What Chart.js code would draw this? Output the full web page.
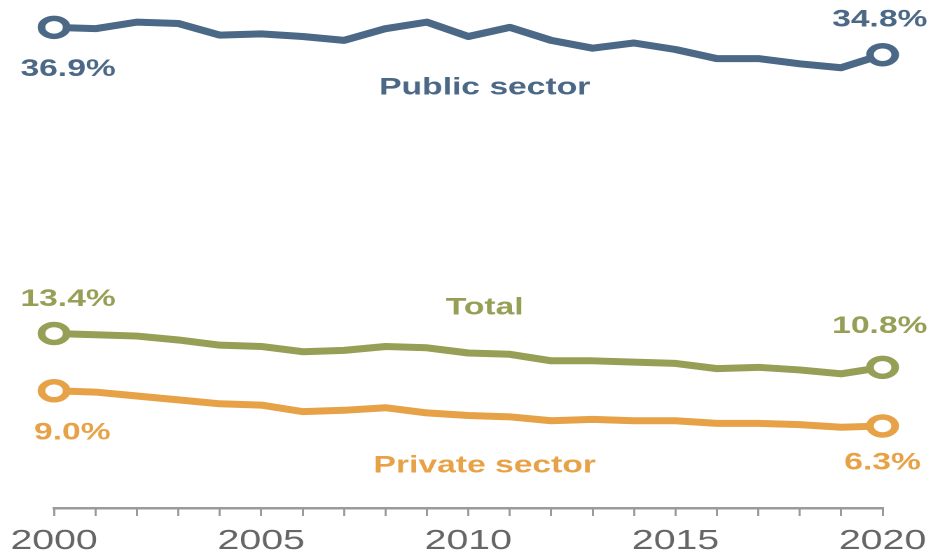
<!DOCTYPE html>
<html>
<head>
<meta charset="utf-8">
<script src="https://cdn.jsdelivr.net/npm/chart.js@4"></script>
<style>
  html, body { margin: 0; padding: 0; background: #fff; }
  #wrap { width: 933px; height: 552px; overflow: hidden; }
  #c { transform: scaleX(1.4009); transform-origin: 0 0; }
</style>
</head>
<body>
<div id="wrap"><canvas id="c"></canvas></div>
<script>
  // datos (tasa de sindicalizacion, %)
  var years = [2000, 2001, 2002, 2003, 2004, 2005, 2006, 2007, 2008, 2009, 2010,
               2011, 2012, 2013, 2014, 2015, 2016, 2017, 2018, 2019, 2020];
  var publicSector = [36.9, 36.8, 37.3, 37.2, 36.3, 36.4, 36.2, 35.9, 36.8, 37.3, 36.2,
                      36.9, 35.9, 35.3, 35.7, 35.2, 34.5, 34.5, 34.1, 33.8, 34.8];
  var total = [13.4, 13.3, 13.2, 12.9, 12.5, 12.4, 12.0, 12.1, 12.4, 12.3, 11.9,
               11.8, 11.3, 11.3, 11.2, 11.1, 10.7, 10.8, 10.6, 10.3, 10.8];
  var privateSector = [9.0, 8.9, 8.6, 8.3, 8.0, 7.9, 7.4, 7.5, 7.7, 7.3, 7.1,
                       7.0, 6.7, 6.8, 6.7, 6.7, 6.5, 6.5, 6.4, 6.2, 6.3];
  var seriesNames = ['Public sector', 'Total', 'Private sector'];
  var colors = ['#4b6886', '#969f55', '#e7a247'];

  function endPoints(ctx) {
    var last = years.length - 1;
    return (ctx.dataIndex === 0 || ctx.dataIndex === last) ? 9 : 0;
  }

  function makeSet(name, data, color) {
    return {
      label: name,
      data: data,
      borderColor: color,
      borderWidth: 7,
      borderJoinStyle: 'round',
      borderCapStyle: 'round',
      tension: 0,
      pointRadius: endPoints,
      pointHoverRadius: endPoints,
      pointBackgroundColor: '#fff',
      pointBorderColor: color,
      pointBorderWidth: 5.5,
      clip: false
    };
  }

  // etiquetas de texto: valores en los extremos y nombre de cada serie
  var labelPlugin = {
    id: 'labels',
    afterDatasetsDraw: function (chart) {
      var c = chart.ctx;
      var x = chart.scales.x, y = chart.scales.y;
      var last = years.length - 1;
      var sets = [publicSector, total, privateSector];
      // [serie, indice, dx, dy]
      var valueLabels = [
        [0, 0, 10, 42], [0, last, -2, -35],
        [1, 0, 10, -34], [1, last, -2, -41],
        [2, 0, 13, 42], [2, last, 0, 37]
      ];
      c.save();
      c.font = 'bold 24px "Liberation Sans", Arial, sans-serif';
      c.textAlign = 'center';
      c.textBaseline = 'middle';
      valueLabels.forEach(function (l) {
        var v = sets[l[0]][l[1]];
        c.fillStyle = colors[l[0]];
        c.fillText(v.toFixed(1) + '%', x.getPixelForValue(l[1]) + l[2], y.getPixelForValue(v) + l[3]);
      });
      var nameY = [88, 308, 466];
      seriesNames.forEach(function (n, i) {
        c.fillStyle = colors[i];
        c.fillText(n, 346, nameY[i]);
      });
      c.restore();
    }
  };

  var canvas = document.getElementById('c');
  canvas.width = 666;
  canvas.height = 552;
  canvas.style.width = '666px';
  canvas.style.height = '552px';

  new Chart(canvas.getContext('2d'), {
    type: 'line',
    data: {
      labels: years.map(String),
      datasets: [
        makeSet(seriesNames[0], publicSector, colors[0]),
        makeSet(seriesNames[1], total, colors[1]),
        makeSet(seriesNames[2], privateSector, colors[2])
      ]
    },
    options: {
      responsive: false,
      devicePixelRatio: 2,
      animation: false,
      layout: {
        autoPadding: false,
        padding: { left: 38.6, right: 36, top: 0, bottom: 0 }
      },
      plugins: { legend: { display: false }, tooltip: { enabled: false } },
      scales: {
        x: {
          offset: false,
          afterFit: function (s) { s.height = 44; s.paddingLeft = 0; s.paddingRight = 0; },
          grid: { drawOnChartArea: false, drawTicks: true, tickLength: 8, color: '#9a9a9a', lineWidth: 1.5 },
          border: { display: true, color: '#9a9a9a', width: 2.5 },
          ticks: {
            autoSkip: false,
            maxRotation: 0,
            padding: 10,
            color: '#666',
            font: { family: '"Liberation Sans", Arial, sans-serif', size: 28, lineHeight: 1.1 },
            callback: function (val, i) { return years[i] % 5 === 0 ? String(years[i]) : ''; }
          }
        },
        y: { display: false, min: 0, max: 39 }
      }
    },
    plugins: [labelPlugin]
  });
</script>
</body>
</html>
